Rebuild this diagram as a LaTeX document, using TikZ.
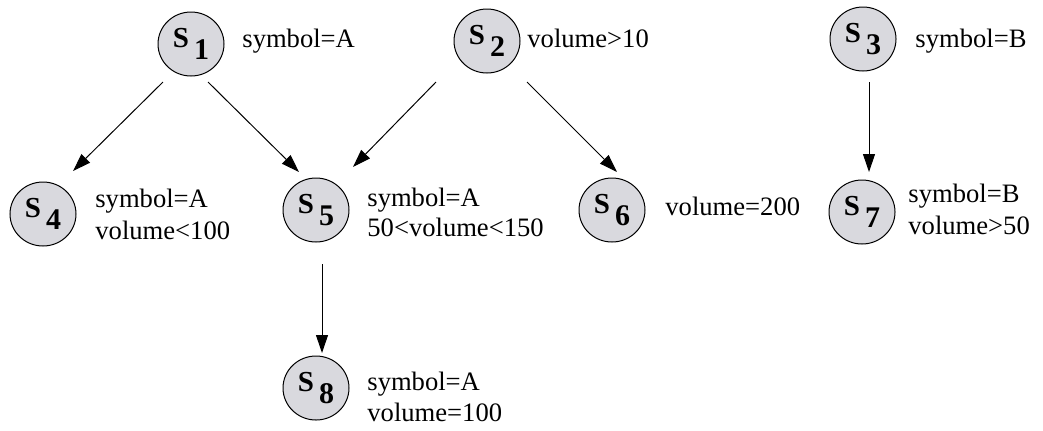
\documentclass[tikz,border=0pt]{standalone}
\usepackage{fontspec}
\setmainfont{Liberation Serif}
\usetikzlibrary{arrows.meta,shapes.geometric}
\definecolor{statefill}{RGB}{217,217,222}
\newcommand{\stlabel}[1]{\textbf{\fontsize{14.5}{14.5}\selectfont S\hspace{2.5pt}\raisebox{-6pt}{\fontsize{15}{15}\selectfont #1}}}
\tikzset{
  state/.style={ellipse, draw=black, line width=0.5pt, fill=statefill, minimum width=33pt, minimum height=32pt, inner sep=0pt},
  lbl/.style={anchor=base west, inner sep=0pt, font=\fontsize{13.3}{15}\selectfont},
  arr/.style={-{Triangle[length=9pt,width=6pt]}, line width=0.5pt, black}
}
\begin{document}
\begin{tikzpicture}[x=0.5pt,y=-0.5pt]
\useasboundingbox (0,0) rectangle (1043,430);
% states
\node[state] (s1) at (191,44) {\stlabel{1}};
\node[state] (s2) at (487,41) {\stlabel{2}};
\node[state] (s3) at (863,39) {\stlabel{3}};
\node[state] (s4) at (43,214) {\stlabel{4}};
\node[state] (s5) at (316,210) {\stlabel{5}};
\node[state] (s6) at (612,210) {\stlabel{6}};
\node[state] (s7) at (862,212) {\stlabel{7}};
\node[state] (s8) at (316,388) {\stlabel{8}};
% labels
\node[lbl] (l1) at (242,47) {symbol=A};
\node[lbl] (l2) at (527,47) {volume>10};
\node[lbl] (l3) at (915,47) {symbol=B};
\node[lbl] (l4a) at (95,207) {symbol=A};
\node[lbl] (l4b) at (95,239) {volume<100};
\node[lbl] (l5a) at (367,206) {symbol=A};
\node[lbl] (l5b) at (367,236) {50<volume<150};
\node[lbl] (l6) at (665,215) {volume=200};
\node[lbl] (l7a) at (908,202) {symbol=B};
\node[lbl] (l7b) at (908,234) {volume>50};
\node[lbl] (l8a) at (367,390) {symbol=A};
\node[lbl] (l8b) at (367,421) {volume=100};
% connectors
\draw[arr] ([shift={(-28,38)}]s1.center) -- ([shift={(30,-43)}]s4.center);
\draw[arr] ([shift={(17,38)}]s1.center) -- ([shift={(-17,-38)}]s5.center);
\draw[arr] ([shift={(-51,41)}]s2.center) -- ([shift={(37,-43)}]s5.center);
\draw[arr] ([shift={(40,41)}]s2.center) -- ([shift={(5,-38)}]s6.center);
\draw[arr] ([shift={(6,43)}]s3.center) -- ([shift={(7,-40)}]s7.center);
\draw[arr] ([shift={(6,54)}]s5.center) -- ([shift={(6,-35)}]s8.center);
\end{tikzpicture}
\end{document}
